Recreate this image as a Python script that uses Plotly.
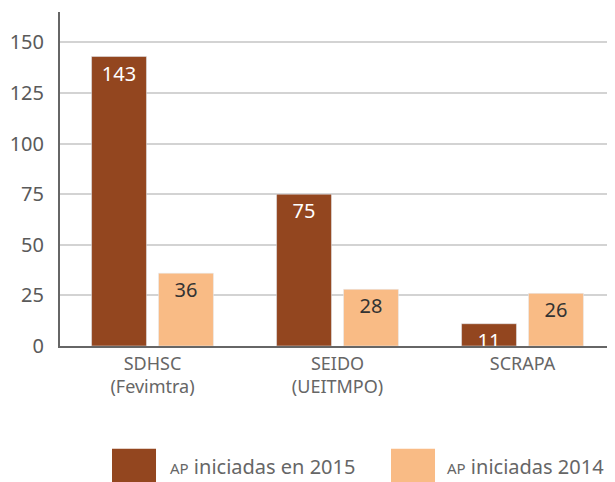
import plotly.graph_objects as go

categories = ["SDHSC<br>(Fevimtra)", "SEIDO<br>(UEITMPO)", "SCRAPA"]
values_2015 = [143, 75, 11]
values_2014 = [36, 28, 26]
series_names = ["AP iniciadas en 2015", "AP iniciadas 2014"]
y_ticks = [0, 25, 50, 75, 100, 125, 150]

c2015 = "#93461F"
c2014 = "#F9BB85"
font_family = "Noto Sans, Open Sans, sans-serif"

fig = go.Figure()
fig.add_trace(go.Bar(
    x=categories, y=values_2015, name=series_names[0], marker_color=c2015,
    text=[str(v) for v in values_2015], textposition="inside", insidetextanchor="end",
    textfont=dict(color="white", size=20, family=font_family), textangle=0,
    showlegend=False,
))
fig.add_trace(go.Bar(
    x=categories, y=values_2014, name=series_names[1], marker_color=c2014,
    text=[str(v) for v in values_2014], textposition="inside", insidetextanchor="end",
    textfont=dict(color="#333333", size=20, family=font_family), textangle=0,
    showlegend=False,
))

# page body has an 8px default margin, so the figure is offset accordingly
fig.update_layout(
    width=615, height=474,
    margin=dict(l=52, r=8, t=4, b=136),
    paper_bgcolor="white", plot_bgcolor="white",
    barmode="group", bargap=0.276, bargroupgap=0.18,
    uniformtext=dict(minsize=19, mode="show"),
    font=dict(family=font_family, color="#5a5a5a"),
    xaxis=dict(showline=True, linecolor="#666666", linewidth=2, automargin=False,
               tickfont=dict(size=18, color="#666666"), showgrid=False,
               ticks=""),
    yaxis=dict(range=[0, 165], tickvals=y_ticks, showline=True, linecolor="#666666",
               linewidth=2, showgrid=True, gridcolor="#d3d3d3", gridwidth=2,
               zeroline=False, ticks="", tickfont=dict(size=20, color="#5a5a5a"),
               ticklabelstandoff=10, automargin=False),
)

# legend drawn manually (large swatches)
legend_items = [
    (0.0937, 0.173, 0.1946, c2015, series_names[0]),
    (0.5964, 0.6757, 0.6937, c2014, series_names[1]),
]
for x0, x1, xt, col, name in legend_items:
    fig.add_shape(type="rect", xref="paper", yref="paper", x0=x0, x1=x1,
                  y0=-0.308, y1=-0.42, fillcolor=col, line_width=0, layer="above")
    label = name.replace("AP ", '<span style="font-size:15px">AP</span> ')
    fig.add_annotation(xref="paper", yref="paper", x=xt, y=-0.362, xanchor="left",
                       yanchor="middle", showarrow=False, text=label,
                       font=dict(size=20, color="#666666", family=font_family))

fig.write_html("out.html")
